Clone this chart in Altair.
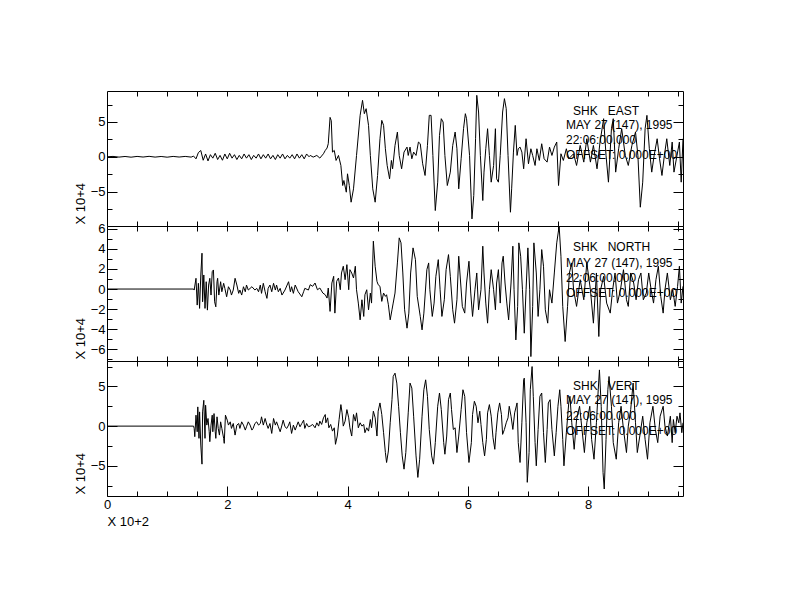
import altair as alt
import pandas as pd

FONT = "Liberation Sans, Arial, sans-serif"
W, H = 576, 135
XMAX = 9.58

X_MAJOR = [0, 2, 4, 6, 8]
X_MINOR = [0.5, 1.0, 1.5, 2.0, 2.5, 3.0, 3.5, 4.0, 4.5, 5.0, 5.5, 6.0, 6.5, 7.0, 7.5, 8.0, 8.5, 9.0, 9.5]

# ---------------- EAST ----------------
EAST_T = [
    0.00, 0.10, 0.20, 0.30, 0.40, 0.50, 0.60, 0.70, 0.80, 0.90, 1.00, 1.10, 1.20, 1.30, 1.40,
    1.44, 1.48, 1.52, 1.56, 1.60, 1.64, 1.68, 1.72, 1.76, 1.80,
    1.84, 1.88, 1.92, 1.96, 2.00, 2.04, 2.08, 2.12, 2.16, 2.20,
    2.24, 2.28, 2.32, 2.36, 2.40, 2.44, 2.48, 2.52, 2.56, 2.60,
    2.64, 2.68, 2.72, 2.76, 2.80, 2.84, 2.88, 2.92, 2.96, 3.00,
    3.04, 3.08, 3.12, 3.16, 3.20, 3.24, 3.28, 3.32, 3.36,
    3.38, 3.43, 3.49, 3.54, 3.60, 3.63, 3.66, 3.68, 3.71, 3.73,
    3.75, 3.78, 3.81, 3.85, 3.89, 3.92, 3.94, 3.98, 4.00, 4.03,
    4.06, 4.10, 4.15, 4.21, 4.25, 4.28, 4.31, 4.35, 4.38, 4.42,
    4.46, 4.50, 4.54, 4.57, 4.60, 4.63, 4.66, 4.70, 4.73, 4.75,
    4.79, 4.83, 4.86, 4.90, 4.94, 4.99, 5.01, 5.04, 5.07, 5.10,
    5.14, 5.18, 5.21, 5.25, 5.29, 5.33, 5.36, 5.39, 5.42, 5.46,
    5.50, 5.53, 5.56, 5.59, 5.62, 5.66, 5.71, 5.75, 5.79, 5.82,
    5.85, 5.89, 5.93, 5.96, 5.98, 6.03, 6.07, 6.10, 6.13, 6.15,
    6.18, 6.21, 6.25, 6.27, 6.30, 6.33, 6.36, 6.39, 6.43, 6.46,
    6.48, 6.51, 6.54, 6.58, 6.61, 6.64, 6.67, 6.71, 6.73, 6.76,
    6.79, 6.82, 6.84, 6.87, 6.90, 6.93, 6.97, 7.01, 7.05, 7.08,
    7.12, 7.15, 7.19, 7.23, 7.27, 7.32, 7.36, 7.40, 7.44, 7.48,
    7.51, 7.55, 7.59, 7.64, 7.68, 7.76, 7.81, 7.87, 7.93, 7.98,
    8.04, 8.09, 8.15, 8.20, 8.26, 8.30, 8.34, 8.39, 8.42, 8.46,
    8.51, 8.56, 8.62, 8.67, 8.73, 8.79, 8.83, 8.87, 8.91, 8.95,
    8.98, 9.02, 9.06, 9.10, 9.15, 9.19, 9.23, 9.27, 9.31, 9.36,
    9.40, 9.43, 9.48, 9.52, 9.55, 9.58,
]
EAST_V = [
    0.00, 0.05, -0.05, 0.04, -0.06, 0.05, -0.04, 0.06, -0.05, 0.04, -0.06, 0.05, -0.04, 0.05, -0.05,
    0.10, -0.30, 0.60, 0.90, -0.50, 0.40, -0.60, 0.30, -0.20, 0.50,
    -0.40, 0.20, -0.50, 0.40, -0.30, 0.50, -0.20, 0.30, -0.40, 0.20,
    -0.30, 0.40, -0.20, 0.30, -0.40, 0.20, -0.20, 0.40, -0.30, 0.30,
    -0.20, 0.40, -0.30, 0.20, -0.40, 0.30, -0.20, 0.40, -0.30, 0.20,
    -0.20, 0.30, -0.30, 0.40, -0.20, 0.30, -0.30, 0.40, 0.00,
    0.19, -0.05, 0.19, -0.19, 0.43, 0.91, 1.25, 1.87, 5.66, 5.18,
    0.67, 0.91, -0.53, 0.19, -1.25, -4.13, -3.41, -5.09, -2.45, -4.13,
    -6.53, -4.61, 0.19, 5.95, 8.11, 6.19, 6.91, 4.51, 0.19, -4.61,
    -6.53, -2.69, 2.59, 5.23, 4.51, 1.15, -1.25, -3.17, -0.53, -1.73,
    1.63, 3.55, 0.19, -1.73, 0.67, 1.39, 0.19, 1.39, -0.29, 0.67,
    0.19, 2.11, 1.87, -1.01, -2.69, 1.63, 5.95, 5.95, 0.19, -7.73,
    -3.65, 3.07, 5.47, 4.99, 0.19, -4.13, -2.21, 1.63, 3.55, 1.15,
    -4.61, -0.29, 4.03, 6.19, 5.47, 0.19, -8.93, -5.57, 2.59, 8.83,
    6.43, 0.19, -6.29, -2.21, 1.15, 4.03, 0.19, -3.65, -1.25, 4.03,
    -3.17, -3.65, 0.19, 6.43, 8.35, 6.91, 0.19, -7.97, -4.61, 0.67,
    4.51, 0.19, 1.15, 1.39, 0.67, -1.73, 2.59, -1.01, 1.15, 0.19,
    -1.25, 1.15, -0.53, 1.87, -0.29, -0.77, 1.39, 0.19, 1.39, 2.11,
    -4.13, 0.43, -0.53, 1.15, -0.29, 0.43, -1.25, 1.63, -0.77, 2.59,
    -0.77, 1.63, -1.73, 2.11, 5.47, 0.19, -3.65, 4.03, 5.47, -2.21,
    1.15, 4.03, 0.19, -1.25, 1.63, 3.55, 0.19, -7.25, -3.65, 4.03,
    5.95, 1.15, -2.21, 0.19, 2.59, -0.29, -2.69, 0.19, 2.59, -1.25,
    2.11, -2.21, 0.19, 2.11, -3.65, 2.59,
]

# ---------------- NORTH ----------------
NORTH_T = [
    0.00, 1.44,
    1.45, 1.48, 1.50, 1.52, 1.54, 1.56, 1.58, 1.59, 1.61, 1.63,
    1.65, 1.67, 1.69, 1.71, 1.73, 1.75, 1.77, 1.79, 1.81, 1.83,
    1.84, 1.86, 1.89, 1.91, 1.94, 1.96, 1.99, 2.02, 2.05, 2.07,
    2.10, 2.13, 2.16, 2.19, 2.21, 2.24, 2.27, 2.30, 2.32, 2.35,
    2.41, 2.46, 2.49, 2.52, 2.55, 2.57, 2.60, 2.63, 2.66, 2.68,
    2.71, 2.74, 2.77, 2.80, 2.82, 2.85, 2.88, 2.91, 2.96, 3.02,
    3.05, 3.07, 3.10, 3.13, 3.18, 3.24, 3.27, 3.29, 3.35,
    3.38, 3.42, 3.46, 3.50, 3.54, 3.59, 3.63, 3.66, 3.68, 3.71,
    3.74, 3.77, 3.79, 3.82, 3.85, 3.88, 3.90, 3.93, 3.96, 3.99,
    4.02, 4.04, 4.07, 4.10, 4.13, 4.15, 4.18, 4.21, 4.24, 4.27,
    4.29, 4.32, 4.35, 4.38, 4.40, 4.43, 4.46, 4.49, 4.51, 4.54,
    4.57, 4.60, 4.63, 4.65, 4.68, 4.71, 4.74, 4.76, 4.79, 4.83,
    4.86, 4.89, 4.92, 4.95, 4.99, 5.02, 5.05, 5.09, 5.13, 5.16,
    5.21, 5.24, 5.27, 5.32, 5.35, 5.37, 5.41, 5.44, 5.47, 5.51,
    5.54, 5.57, 5.61, 5.64, 5.68, 5.71, 5.75, 5.78, 5.82, 5.85,
    5.87, 5.91, 5.95, 5.98, 6.02, 6.05, 6.08, 6.12, 6.15, 6.18,
    6.22, 6.25, 6.27, 6.30, 6.33, 6.36, 6.39, 6.43, 6.46, 6.48,
    6.51, 6.54, 6.57, 6.59, 6.62, 6.65, 6.68, 6.72, 6.75, 6.77,
    6.80, 6.83, 6.85, 6.88, 6.91, 6.94, 6.97, 7.00, 7.03, 7.05,
    7.08, 7.10, 7.14, 7.17, 7.20, 7.23, 7.26, 7.29, 7.33, 7.36,
    7.40, 7.44, 7.48, 7.52, 7.55, 7.58, 7.62, 7.66, 7.69, 7.73,
    7.76, 7.81, 7.87, 7.93, 7.98, 8.04, 8.09, 8.14, 8.18, 8.21,
    8.26, 8.31, 8.37, 8.41, 8.45, 8.49, 8.54, 8.59, 8.64, 8.67,
    8.71, 8.76, 8.80, 8.84, 8.88, 8.92, 8.97, 9.01, 9.05, 9.09,
    9.13, 9.17, 9.21, 9.25, 9.28, 9.32, 9.37, 9.41, 9.45, 9.49,
    9.52, 9.55, 9.58,
]
NORTH_V = [
    0.00, 0.00,
    -0.10, 1.07, -1.60, 0.57, -1.93, 1.40, 3.57, -1.27, 1.40, -1.93,
    0.73, -2.10, 0.40, 1.07, -0.60, 1.73, 1.90, -1.27, -1.77, 0.73,
    1.07, -0.60, 0.73, -0.27, 0.57, 0.07, -0.77, 0.23, -0.10, -0.60,
    -0.10, 1.07, 0.40, -0.43, -0.10, -0.60, 0.23, -0.27, 0.40, -0.10,
    0.23, -0.10, 0.07, -0.27, 0.40, -0.43, 0.57, -0.27, -0.93, 0.07,
    0.40, -0.27, 0.57, -0.10, 0.40, -0.27, 0.07, -0.60, -0.10, 0.73,
    -0.27, 0.23, -0.43, 0.40, -0.27, -0.77, -0.27, 0.07, -0.10,
    0.43, 0.27, 0.60, -0.07, 0.10, -0.40, -0.57, -0.90, 0.10, -2.23,
    0.60, 1.27, -2.40, 0.77, 1.10, -0.07, 1.60, 2.27, 0.93, 2.43,
    -0.07, 1.93, 1.60, 1.10, 2.27, -0.07, -1.40, -3.07, -1.07, -2.73,
    -0.57, -0.07, -2.07, -0.40, -1.40, 4.77, 2.27, 0.77, 0.43, 0.27,
    -1.23, -0.40, -0.73, -0.57, -1.57, -3.07, -2.07, -1.40, -0.40, 2.60,
    5.10, 4.60, 1.60, -2.07, -3.90, -2.40, 1.60, 4.10, 2.93, -0.73,
    -2.73, -4.07, -2.40, 1.93, 2.60, -0.07, -2.73, -1.40, 1.27, 2.93,
    -0.07, -2.73, -1.07, 1.93, 3.43, 1.27, -2.07, -3.40, -1.07, 3.27,
    1.60, -1.73, -2.40, 0.60, 2.77, -0.40, -2.73, -0.07, 1.60, -2.07,
    -0.07, 4.27, 1.60, -1.40, -3.40, -0.07, 1.93, -0.07, -2.07, 0.60,
    1.93, -1.40, 2.60, 3.27, 0.60, -1.40, -3.07, 0.60, 4.27, -0.07,
    -5.07, -1.73, 4.60, 3.27, -0.07, -4.40, -0.07, 4.10, -0.07, -6.73,
    -1.73, 4.60, 1.60, -2.73, -0.07, 3.93, 2.27, -2.07, -3.40, -0.07,
    -1.40, 1.60, 4.60, 6.27, 3.27, -1.73, -5.23, -1.73, 1.60, 2.60,
    -0.07, -1.73, 0.93, -1.07, 2.60, -0.07, -3.40, 1.60, -4.73, -0.07,
    1.27, -1.40, -2.40, -0.07, 1.60, -1.40, -0.07, 1.93, -1.07, -1.73,
    1.60, 0.60, -1.07, 0.93, 1.60, -1.07, -0.40, 1.60, -0.07, -1.40,
    0.93, 2.27, -0.73, -2.40, -0.07, 1.60, -1.07, -0.07, -1.73, 0.27,
    2.27, -1.40, 0.27,
]

# ---------------- VERT ----------------
VERT_T = [
    0.00, 1.44,
    1.45, 1.46, 1.48, 1.50, 1.51, 1.53, 1.54, 1.56, 1.58, 1.59,
    1.61, 1.63, 1.64, 1.66, 1.68, 1.70, 1.71, 1.73, 1.75, 1.76,
    1.78, 1.80, 1.81, 1.83, 1.85, 1.87, 1.89, 1.91, 1.94, 1.95,
    1.97, 2.00, 2.02, 2.05, 2.07, 2.10, 2.13, 2.16, 2.19, 2.21,
    2.24, 2.27, 2.30, 2.32, 2.35, 2.38, 2.41, 2.43, 2.46, 2.49,
    2.52, 2.55, 2.57, 2.60, 2.63, 2.66, 2.68, 2.71, 2.74, 2.77,
    2.80, 2.82, 2.85, 2.88, 2.91, 2.93, 2.96, 2.99, 3.02, 3.04,
    3.07, 3.10, 3.13, 3.16, 3.18, 3.21, 3.24, 3.27, 3.29, 3.32,
    3.35,
    3.38, 3.42, 3.46, 3.49, 3.52, 3.54, 3.57, 3.60, 3.63, 3.64,
    3.67, 3.69, 3.72, 3.75, 3.78, 3.80, 3.83, 3.86, 3.89, 3.91,
    3.93, 3.96, 3.99, 4.02, 4.04, 4.07, 4.10, 4.13, 4.15, 4.18,
    4.21, 4.24, 4.27, 4.29, 4.32, 4.35, 4.38, 4.40, 4.43, 4.46,
    4.49, 4.51, 4.54, 4.57, 4.60, 4.63, 4.65, 4.68, 4.71, 4.74,
    4.76, 4.79, 4.82, 4.85, 4.88, 4.91, 4.94, 4.97, 5.01, 5.04,
    5.07, 5.10, 5.14, 5.17, 5.20, 5.24, 5.27, 5.30, 5.33, 5.36,
    5.40, 5.43, 5.46, 5.50, 5.53, 5.56, 5.60, 5.62, 5.65, 5.68,
    5.71, 5.73, 5.76, 5.79, 5.82, 5.85, 5.89, 5.92, 5.95, 5.98,
    6.02, 6.06, 6.08, 6.11, 6.14, 6.17, 6.20, 6.22, 6.25, 6.28,
    6.31, 6.33, 6.36, 6.39, 6.42, 6.45, 6.47, 6.50, 6.53, 6.56,
    6.58, 6.61, 6.64, 6.67, 6.69, 6.72, 6.75, 6.78, 6.82, 6.84,
    6.87, 6.90, 6.93, 6.94, 6.97, 6.99, 7.02, 7.04, 7.07, 7.09,
    7.12, 7.14, 7.17, 7.20, 7.23, 7.26, 7.29, 7.32, 7.34, 7.37,
    7.40, 7.44, 7.47, 7.50, 7.53, 7.55, 7.58, 7.60, 7.64, 7.68,
    7.70, 7.73, 7.77, 7.81, 7.86, 7.90, 7.94, 7.98, 8.03, 8.06,
    8.10, 8.14, 8.17, 8.19, 8.22, 8.25, 8.27, 8.30, 8.33, 8.35,
    8.39, 8.42, 8.47, 8.51, 8.55, 8.59, 8.64, 8.67, 8.71, 8.75,
    8.79, 8.82, 8.87, 8.91, 8.95, 8.99, 9.03, 9.08, 9.12, 9.16,
    9.20, 9.25, 9.28, 9.32, 9.37, 9.40, 9.42, 9.45, 9.48, 9.51,
    9.53, 9.56, 9.58,
]
VERT_V = [
    0.00, 0.00,
    -0.29, -1.33, 1.38, -0.71, 2.42, -1.54, 1.79, -2.38, -4.79, 1.79,
    3.25, -1.54, 2.63, 0.13, 0.96, -0.71, -1.96, 0.13, 1.38, -0.71,
    1.58, -0.71, -1.54, 1.17, -0.29, -1.13, 0.54, -0.29, -1.54, -2.17,
    1.38, 0.75, 0.13, 0.54, -0.29, 0.33, -1.13, 0.13, 0.33, -0.29,
    0.54, 0.13, -0.50, -0.08, 0.54, 0.13, -0.50, -0.29, 0.33, 0.54,
    0.13, 0.33, 1.17, 0.13, 0.96, 0.13, -0.29, 0.33, -0.92, 0.96,
    0.13, 0.54, -0.08, -0.71, 0.13, 0.75, -0.08, -0.29, 0.13, 0.54,
    -0.92, 0.13, -0.50, 0.13, 0.54, -0.08, 0.33, 0.75, -0.29, 0.33,
    -0.08,
    0.00, 0.21, -0.21, 0.42, 0.00, 0.63, 0.21, 1.04, 1.46, 0.42,
    1.04, -0.21, 0.21, -0.63, -0.21, -2.29, -1.25, 0.83, 2.71, 1.67,
    0.00, 0.63, 2.08, 1.04, -0.21, -1.25, 1.46, 0.63, 1.67, -0.21,
    0.42, 0.00, 0.21, -0.83, -0.21, -0.63, 0.83, -0.21, 1.88, 1.04,
    -1.25, 1.88, 2.92, 1.46, -0.83, -3.33, -4.58, -3.13, 0.42, 3.33,
    6.25, 6.67, 5.42, 2.50, -0.83, -3.75, -5.42, -3.33, 1.67, 5.42,
    4.79, 1.25, -3.75, -6.46, -4.17, 1.25, 4.58, 5.83, 3.75, -0.42,
    -3.75, -4.79, -2.08, 2.50, 4.17, 2.08, -2.08, -3.54, -1.25, 3.33,
    4.17, 2.08, -0.42, -0.21, -3.33, -1.25, 2.08, 4.58, 3.75, -0.83,
    -4.58, -2.08, 1.46, 3.13, 2.50, 0.42, 1.88, 0.21, -2.08, -3.75,
    -1.67, 1.67, 2.71, 1.25, -1.46, -2.92, -0.83, 1.67, 2.92, 1.46,
    -1.04, -0.42, 0.42, 1.04, 2.50, 1.25, -0.42, 1.67, 2.92, -2.08,
    -4.58, 0.42, 5.83, 6.04, 0.42, -7.08, -3.33, 4.58, 7.50, 3.75,
    -2.08, -5.00, -0.42, 3.75, 4.17, -0.83, -4.58, -0.42, 2.92, 3.33,
    -0.42, -3.75, -0.83, 2.50, 4.58, 2.50, -1.67, -5.00, -0.83, 2.92,
    3.75, 0.42, -2.92, 0.83, 2.50, -0.42, -3.33, 0.42, 2.50, -1.67,
    -4.17, 0.42, 4.58, 7.08, 2.50, -5.83, -7.92, -1.67, 4.58, 6.25,
    2.50, -2.08, -4.17, 0.42, 2.50, -0.42, -3.33, 0.00, 2.08, 5.42,
    0.42, -3.33, -0.83, 1.25, -1.67, -4.17, 0.42, 2.50, -0.42, -2.08,
    1.25, 2.50, 0.00, -1.25, 1.25, -2.08, 0.83, -0.83, 1.25, 0.42,
    1.67, -0.83, 0.42,
]

EAST_HEAD = ["SHK   EAST", "MAY 27 (147), 1995", "22:06:00.000", "OFFSET: 0.000E+00"]
NORTH_HEAD = ["SHK   NORTH", "MAY 27 (147), 1995", "22:06:00.000", "OFFSET: 0.000E+00"]
VERT_HEAD = ["SHK   VERT", "MAY 27 (147), 1995", "22:06:00.000", "OFFSET: 0.000E+00"]


def panel(t, v, ydom, ymaj, ymin, head, head_y, bottom):
    n = min(len(t), len(v))
    df = pd.DataFrame({"t": t[:n], "v": v[:n]})
    xs = alt.Scale(domain=[0, XMAX], nice=False, zero=False)
    ys = alt.Scale(domain=ydom, nice=False, zero=False)

    def ax(orient, offset, values, size):
        return alt.Axis(orient=orient, offset=offset, values=values, tickSize=size,
                        domain=False, grid=False, labels=False, title=None,
                        tickColor="black", tickWidth=1)

    def lay(xaxis, yaxis, visible=False):
        return alt.Chart(df).mark_line(
            color="black", strokeWidth=1, opacity=1 if visible else 0, clip=True
        ).encode(
            x=alt.X("t:Q", scale=xs, axis=xaxis),
            y=alt.Y("v:Q", scale=ys, axis=yaxis),
        )

    ylab = alt.Axis(orient="left", values=ymaj, ticks=False, tickSize=0, domain=False,
                    grid=False, labelPadding=2, labelFont=FONT, labelFontSize=13,
                    labelColor="black", labelFlush=False, labelOverlap=False,
                    title="X 10+4", titleFont=FONT, titleFontSize=13,
                    titleFontWeight="normal", titleColor="black", titleAngle=270,
                    titleX=-27, titleY=H - 2, titleAlign="left", titleBaseline="middle")
    xlab = None
    if bottom:
        xlab = alt.Axis(orient="bottom", values=X_MAJOR, ticks=False, tickSize=0,
                        domain=False, grid=False, labelPadding=2, labelFont=FONT,
                        labelFontSize=13, labelColor="black", labelFlush=False,
                        labelOverlap=False, title="X 10+2", titleFont=FONT,
                        titleFontSize=13, titleFontWeight="normal", titleColor="black",
                        titleX=0, titleY=25, titleAlign="left", titleBaseline="middle")

    layers = [
        lay(xlab, ylab, visible=True),
        lay(ax("bottom", -H, X_MINOR, 5), ax("right", -W, ymaj, 10)),
        lay(ax("top", -H, X_MINOR, 5), ax("right", -W, ymin, 5)),
        lay(ax("top", -H, X_MAJOR, 10) if bottom else None, ax("left", -W, ymaj, 10)),
        lay(None, ax("left", -W, ymin, 5)),
    ]
    xpos = [466, 459, 459, 459]
    for i, s in enumerate(head):
        txt = s.replace(" ", "\u00a0")
        layers.append(
            alt.Chart(pd.DataFrame({"s": [txt]})).mark_text(
                align="left", baseline="middle", font=FONT, fontSize=12, color="black"
            ).encode(x=alt.value(xpos[i]), y=alt.value(head_y[i]), text="s:N")
        )
    return alt.layer(*layers).resolve_axis(x="independent", y="independent").properties(
        width=W, height=H
    )


p1 = panel(EAST_T, EAST_V, [-9.95, 9.45], [-5, 0, 5], [-7.5, -2.5, 2.5, 7.5],
           EAST_HEAD, [20, 34, 49, 64], False)
p2 = panel(NORTH_T, NORTH_V, [-7.17, 6.28], [-6, -4, -2, 0, 2, 4, 6],
           [-7, -5, -3, -1, 1, 3, 5], NORTH_HEAD, [21, 37, 52, 67], False)
p3 = panel(VERT_T, VERT_V, [-8.8, 8.2], [-5, 0, 5], [-7.5, -2.5, 2.5, 7.5],
           VERT_HEAD, [25, 39, 54.5, 70], True)

chart = alt.vconcat(p1, p2, p3, spacing=0, bounds="flush").properties(
    padding={"left": 65, "top": 82, "right": 5, "bottom": 5},
    background="white",
).configure_view(stroke="black", strokeWidth=1)

chart.save("out.html", embed_options={"renderer": "svg", "actions": False})
